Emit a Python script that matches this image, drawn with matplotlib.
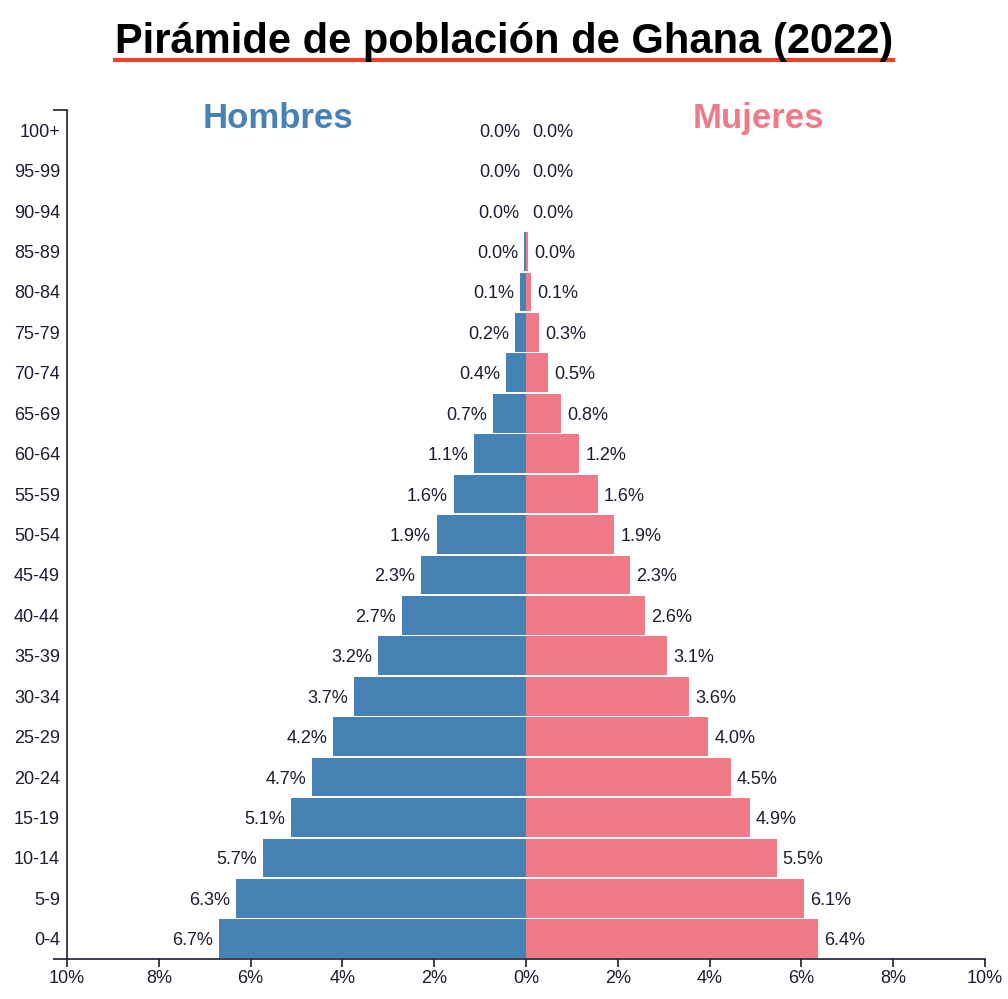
import matplotlib
matplotlib.use("Agg")
import matplotlib.pyplot as plt
from matplotlib.lines import Line2D

plt.rcParams['font.family'] = ['Liberation Sans', 'DejaVu Sans']

age_groups = ['0-4', '5-9', '10-14', '15-19', '20-24', '25-29', '30-34', '35-39',
              '40-44', '45-49', '50-54', '55-59', '60-64', '65-69', '70-74',
              '75-79', '80-84', '85-89', '90-94', '95-99', '100+']
hombres = [6.69, 6.32, 5.73, 5.12, 4.66, 4.20, 3.74, 3.22, 2.70, 2.29, 1.94,
           1.57, 1.13, 0.72, 0.44, 0.24, 0.13, 0.04, 0.01, 0.002, 0.0]
mujeres = [6.36, 6.06, 5.46, 4.88, 4.46, 3.97, 3.56, 3.07, 2.59, 2.26, 1.92,
           1.57, 1.16, 0.76, 0.48, 0.28, 0.11, 0.04, 0.01, 0.002, 0.0]
x_ticks = [-10, -8, -6, -4, -2, 0, 2, 4, 6, 8, 10]

c_male = '#4682b4'
c_female = '#ef7a88'
c_text = '#1c1c30'

W, H = 1008, 999
fig = plt.figure(figsize=(W / 100, H / 100), dpi=100)
ax = fig.add_axes([67 / W, 1 - 959 / H, (985 - 67) / W, (959 - 110) / H])

y = list(range(len(age_groups)))
ax.barh(y, [-v for v in hombres], height=0.96, color=c_male)
ax.barh(y, mujeres, height=0.96, color=c_female)

for yi, v in zip(y, hombres):
    ax.annotate(f'{v:.1f}%', (-v, yi), xytext=(-6, -2), textcoords='offset pixels',
                ha='right', va='center', fontsize=13, color=c_text)
for yi, v in zip(y, mujeres):
    ax.annotate(f'{v:.1f}%', (v, yi), xytext=(6, -2), textcoords='offset pixels',
                ha='left', va='center', fontsize=13, color=c_text)

ax.set_xlim(-10, 10)
ax.set_ylim(-0.5, len(age_groups) - 0.5)
ax.set_xticks(x_ticks)
ax.set_xticklabels([f'{abs(t)}%' for t in x_ticks])
ax.set_yticks(y)
ax.set_yticklabels(age_groups)
ax.set_yticks([-0.5, len(age_groups) - 0.5], minor=True)

for s in ['top', 'right']:
    ax.spines[s].set_visible(False)
for s in ['left', 'bottom']:
    ax.spines[s].set_color(c_text)
    ax.spines[s].set_linewidth(1.2)
ax.tick_params(axis='x', length=6, width=1.2, color=c_text, labelcolor=c_text,
               labelsize=13, pad=2)
ax.tick_params(axis='y', which='major', length=0, labelcolor=c_text,
               labelsize=13, pad=5)
ax.tick_params(axis='y', which='minor', length=10, width=1.2, color=c_text)

ax.text(0.23, 0.99, 'Hombres', transform=ax.transAxes, ha='center', va='center',
        fontsize=25, fontweight='bold', color=c_male)
ax.text(0.753, 0.99, 'Mujeres', transform=ax.transAxes, ha='center', va='center',
        fontsize=25, fontweight='bold', color=c_female)

title = fig.text(0.5, 1 - 53 / H, 'Pirámide de población de Ghana (2022)',
                 ha='center', va='baseline', fontsize=30, fontweight='bold',
                 color='black')
fig.canvas.draw()
bb = title.get_window_extent().transformed(fig.transFigure.inverted())
fig.add_artist(Line2D([bb.x0, bb.x1], [1 - 60 / H, 1 - 60 / H],
                      transform=fig.transFigure, color='#e8432b', linewidth=3))

fig.savefig('out.png', dpi=100)
